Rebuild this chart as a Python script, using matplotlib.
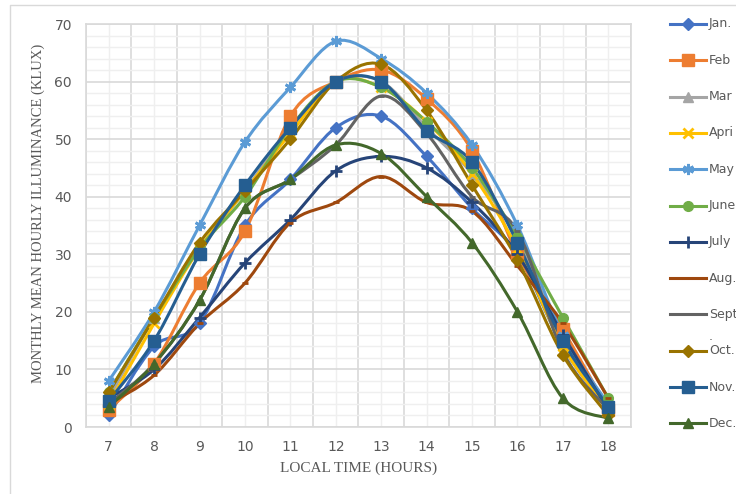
import numpy as np
import matplotlib
matplotlib.use("Agg")
import matplotlib.pyplot as plt
from matplotlib.path import Path
from matplotlib.patches import PathPatch
from matplotlib.lines import Line2D

# --- data ---
hours = [7, 8, 9, 10, 11, 12, 13, 14, 15, 16, 17, 18]
labels = ["Jan.", "Feb", "Mar", "Apri", "May", "June", "July", "Aug.", "Sept\n.", "Oct.", "Nov.", "Dec."]

jan = [2, 14, 18, 35, 43, 52, 54, 47, 38, 30, 14, 3]
feb = [3, 11, 25, 34, 54, 60, 62, 57, 48, 30, 17, 3]
mar = [5, 19, 31, 41, 52, 60, 60, 52, 44, 33, 15, 3]
apr = [4, 18, 31, 41, 51, 60, 59, 53, 44, 31, 14, 3]
may = [8, 20, 35, 49.5, 59, 67, 64, 58, 49, 35, 16, 4]
jun = [6, 19, 31, 40, 52, 60, 59, 53, 45, 33, 19, 5]
jul = [5, 10, 19, 28.5, 36, 44.5, 47, 45, 39, 30, 16, 3]
aug = [4, 9, 18, 25, 35.5, 39, 43.5, 39, 37.5, 28, 18, 5]
sep = [4, 11, 22, 38, 43, 49, 57.5, 51, 40, 34, 13, 3]
oct_ = [6, 19, 32, 41, 50, 60, 63, 55, 42, 29, 12.5, 2]
nov = [4.5, 15, 30, 42, 52, 60, 60, 51.5, 46, 32, 15, 3.5]
dec = [3.5, 11, 22, 38, 43, 49, 47.5, 40, 32, 20, 5, 1.5]

series = [jan, feb, mar, apr, may, jun, jul, aug, sep, oct_, nov, dec]
colors = ["#4472C4", "#ED7D31", "#A5A5A5", "#FFC000", "#5B9BD5", "#70AD47",
          "#264478", "#9E480E", "#636363", "#997300", "#255E91", "#43682B"]
markers = ["D", "s", "^", "x", (6, 2, 0), "o", "+", "_", "_", "D", "s", "^"]
msizes = [6, 8, 7, 7, 8, 7, 8, 5, 5, 6, 9, 7]

W, H = 736, 494
fig = plt.figure(figsize=(W / 100, H / 100), dpi=100)
ax = fig.add_axes([86 / W, 1 - 427 / H, (631 - 86) / W, (427 - 24) / H])


def smooth_path(x, y):
    # Excel style smoothed line: cubic bezier through the points
    x = np.asarray(x, float)
    y = np.asarray(y, float)
    px = np.concatenate([[x[0]], x, [x[-1]]])
    py = np.concatenate([[y[0]], y, [y[-1]]])
    verts = [(x[0], y[0])]
    codes = [Path.MOVETO]
    for i in range(1, len(x)):
        c1 = (px[i] + (px[i + 1] - px[i - 1]) / 6, py[i] + (py[i + 1] - py[i - 1]) / 6)
        c2 = (px[i + 1] - (px[i + 2] - px[i]) / 6, py[i + 1] - (py[i + 2] - py[i]) / 6)
        verts += [c1, c2, (x[i], y[i])]
        codes += [Path.CURVE4] * 3
    return Path(verts, codes)


for vals, c, m, ms in zip(series, colors, markers, msizes):
    ax.add_patch(PathPatch(smooth_path(hours, vals), fill=False, edgecolor=c,
                           linewidth=2.2, zorder=3, capstyle="round", joinstyle="round"))
    mew = 2 if m in ("x", "+", "_") or isinstance(m, tuple) else 1
    ax.plot(hours, vals, linestyle="none", marker=m, markersize=ms, color=c,
            markeredgewidth=mew, zorder=4)

ax.set_xlim(6.5, 18.5)
ax.set_ylim(0, 70)
ax.set_xticks(hours)
ax.set_xticks(np.arange(6.5, 18.6, 1), minor=True)
ax.set_yticks(np.arange(0, 71, 10))
ax.set_yticks(np.arange(0, 71, 2), minor=True)
ax.grid(which="minor", color="#EFEFEF", linewidth=1, zorder=0)
ax.grid(which="major", axis="y", color="#D9D9D9", linewidth=1.2, zorder=1)
ax.grid(which="minor", axis="x", color="#D9D9D9", linewidth=1.2, zorder=1)
ax.xaxis.grid(True, which="major", color="#EFEFEF", linewidth=1)
ax.tick_params(which="both", length=0, labelsize=10, labelcolor="#595959", pad=10)
ax.tick_params(axis="x", pad=9)
for s in ax.spines.values():
    s.set_color("#D9D9D9")
    s.set_linewidth(1.2)
ax.set_axisbelow(True)

ax.set_xlabel("LOCAL TIME (HOURS)", family="Liberation Serif", fontsize=11,
              color="#595959")
ax.xaxis.set_label_coords(0.5, -0.085)
ax.set_ylabel("MONTHLY MEAN HOURLY ILLUMINANCE (KLUX)", family="Liberation Serif",
              fontsize=10.5, color="#595959")
ax.yaxis.set_label_coords(-0.076, 0.53)

# legend drawn by hand so it sits where the reference has it (clipped at right edge)
for i, (lab, c, m, ms) in enumerate(zip(labels, colors, markers, msizes)):
    yp = 1 - (24 + i * 36.3) / H
    fig.add_artist(Line2D([670 / W, 706 / W], [yp, yp], color=c, linewidth=2.2,
                          transform=fig.transFigure))
    if m != "_":
        mew = 2 if m in ("x", "+") or isinstance(m, tuple) else 1
        fig.add_artist(Line2D([688 / W], [yp], marker=m, markersize=ms, color=c,
                              markeredgewidth=mew, transform=fig.transFigure))
    if "\n" in lab:
        fig.text(709 / W, yp, lab.split("\n")[0], fontsize=9, color="#595959",
                 va="center", ha="left")
        fig.text(709 / W, yp - 22 / H, lab.split("\n")[1], fontsize=9, color="#595959",
                 va="center", ha="left")
    else:
        fig.text(709 / W, yp, lab, fontsize=9, color="#595959", va="center", ha="left")

# outer chart border (only top and left show in the reference)
fig.add_artist(Line2D([10 / W, 10 / W, 1], [0, 1 - 5 / H, 1 - 5 / H], color="#D9D9D9",
                      linewidth=1, transform=fig.transFigure))

fig.savefig("out.png", dpi=100)
